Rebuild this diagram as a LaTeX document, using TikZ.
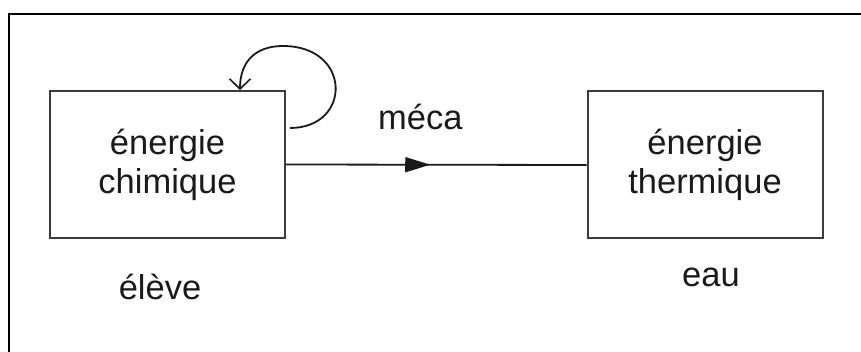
\documentclass[tikz,border=0pt]{standalone}
\usepackage{fontspec}
\setmainfont{Liberation Sans}
\usetikzlibrary{arrows.meta,decorations.markings}
\definecolor{ink}{HTML}{1A1A1A}
\definecolor{boxline}{HTML}{3C3C3C}
\tikzset{
  ebox/.style={draw=boxline, line width=2pt, minimum width=235pt, minimum height=147pt,
    inner sep=0pt, align=center, text=ink, font=\fontsize{34.5}{39}\selectfont},
  lbl/.style={text=ink, inner sep=0pt, font=\fontsize{34.5}{39}\selectfont},
  flow/.style={line width=1.8pt, draw=ink,
    decoration={markings, mark=at position 0.48 with {\arrow{Triangle[length=25pt,width=15pt]}}},
    postaction={decorate}},
  loopline/.style={line width=1.8pt, draw=ink, -{Straight Barb[length=10pt,width=21pt,line width=1.6pt]}}
}
\begin{document}
\begin{tikzpicture}[x=1pt,y=1pt]
\useasboundingbox (0,0) rectangle (861,-352);
\draw[line width=2.2pt, black] (9,-352) -- (9,-14) -- (861,-14);
\node[ebox] (chim) at (167.5,-164.5) {énergie\\chimique};
\node[ebox] (therm) at (705,-165) {énergie\\thermique};
\draw[flow] (chim.east) -- (therm.west);
\node[lbl, anchor=base west] (meca) at (378,-130) {méca};
\node[lbl, anchor=base] (eleve) at (160,-299) {élève};
\node[lbl, anchor=base] (eau) at (711,-287) {eau};
\coordinate (loopstart) at (290,-128);
\draw[loopline] (loopstart) .. controls (352,-128) and (352,-46) .. (283,-46)
  .. controls (255,-46) and (240,-62) .. ([xshift=72.5pt]chim.north);
\end{tikzpicture}
\end{document}
